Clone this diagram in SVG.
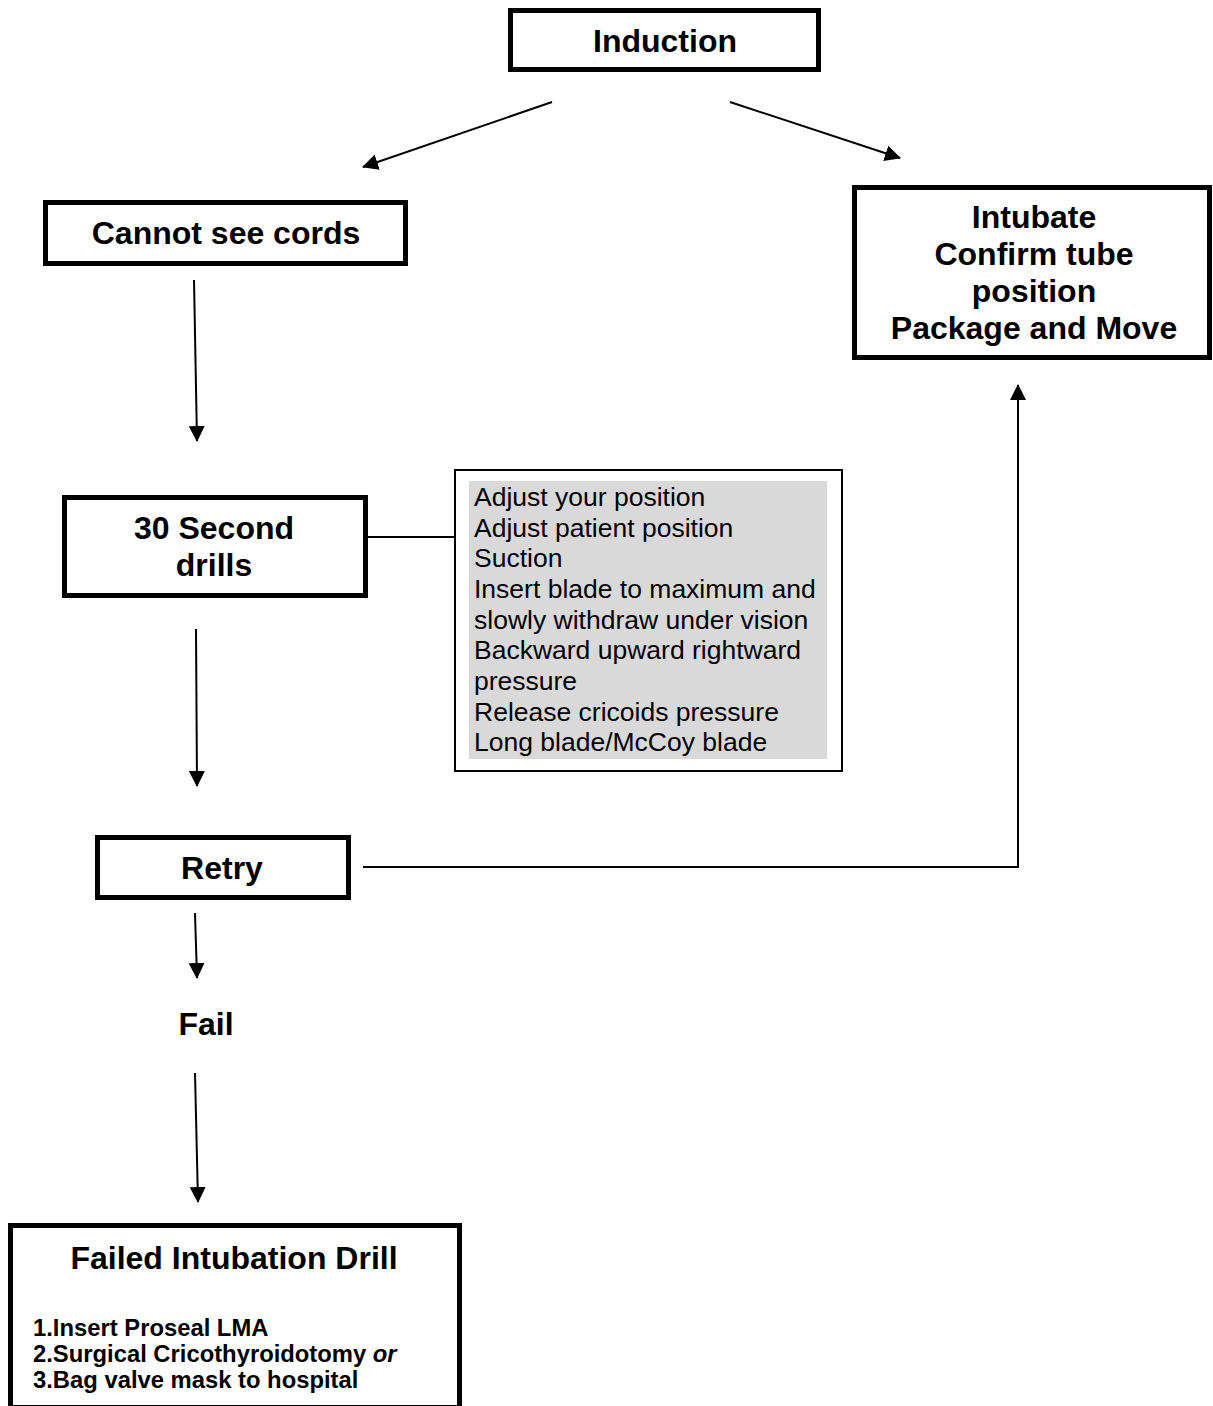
<svg xmlns="http://www.w3.org/2000/svg" width="1213" height="1406" viewBox="0 0 1213 1406">
<style>
.box{fill:#fff;stroke:#000;stroke-width:5}
.t{font-family:"Liberation Sans",Arial,sans-serif;font-weight:bold;font-size:32px;text-anchor:middle;fill:#000}
.r{font-family:"Liberation Sans",Arial,sans-serif;font-size:26.5px;fill:#000}
.i{font-family:"Liberation Sans",Arial,sans-serif;font-weight:bold;font-size:23.8px;fill:#000}
.c{fill:none;stroke:#000;stroke-width:2}
</style>
<defs>
<marker id="ah" markerUnits="userSpaceOnUse" markerWidth="16" markerHeight="16" refX="15" refY="8" orient="auto">
<path d="M0,0 L16,8 L0,16 z" fill="#000"/>
</marker>
</defs>
<rect width="1213" height="1406" fill="#fff"/>
<g id="connectors">
<line class="c" x1="552" y1="102" x2="363" y2="167" marker-end="url(#ah)"/>
<line class="c" x1="730" y1="102" x2="900" y2="158" marker-end="url(#ah)"/>
<line class="c" x1="194" y1="280" x2="197" y2="441" marker-end="url(#ah)"/>
<line class="c" x1="368" y1="537" x2="455" y2="537"/>
<line class="c" x1="196" y1="629" x2="197" y2="786" marker-end="url(#ah)"/>
<polyline class="c" points="363,867 1018,867 1018,385" marker-end="url(#ah)"/>
<line class="c" x1="195" y1="913" x2="197" y2="978" marker-end="url(#ah)"/>
<line class="c" x1="195" y1="1073" x2="198" y2="1202" marker-end="url(#ah)"/>
</g>
<g id="induction">
<rect class="box" x="510.5" y="10.5" width="308" height="59"/>
<text class="t" x="665" y="52">Induction</text>
</g>
<g id="cannot-see-cords">
<rect class="box" x="45.5" y="202.5" width="360" height="61"/>
<text class="t" x="226" y="244">Cannot see cords</text>
</g>
<g id="intubate">
<rect class="box" x="854.5" y="187.5" width="355" height="170"/>
<text class="t" x="1034" y="228">Intubate</text>
<text class="t" x="1034" y="265">Confirm tube</text>
<text class="t" x="1034" y="302">position</text>
<text class="t" x="1034" y="339">Package and Move</text>
</g>
<g id="drills">
<rect class="box" x="64.5" y="497.5" width="301" height="98"/>
<text class="t" x="214" y="539">30 Second</text>
<text class="t" x="214" y="576">drills</text>
</g>
<g id="drill-list">
<rect x="455" y="470" width="387" height="301" fill="#fff" stroke="#000" stroke-width="2"/>
<rect x="469" y="481" width="358" height="278" fill="#d9d9d9"/>
<text class="r" x="474" y="506">Adjust your position</text>
<text class="r" x="474" y="537">Adjust patient position</text>
<text class="r" x="474" y="567">Suction</text>
<text class="r" x="474" y="598">Insert blade to maximum and</text>
<text class="r" x="474" y="629">slowly withdraw under vision</text>
<text class="r" x="474" y="659">Backward upward rightward</text>
<text class="r" x="474" y="690">pressure</text>
<text class="r" x="474" y="721">Release cricoids pressure</text>
<text class="r" x="474" y="751">Long blade/McCoy blade</text>
</g>
<g id="retry">
<rect class="box" x="97.5" y="837.5" width="251" height="60"/>
<text class="t" x="222" y="879">Retry</text>
</g>
<g id="fail">
<text class="t" x="206" y="1035">Fail</text>
</g>
<g id="failed-drill">
<rect class="box" x="10.5" y="1225.5" width="449" height="182"/>
<text class="t" x="234" y="1269">Failed Intubation Drill</text>
<text class="i" x="33" y="1336">1.Insert Proseal LMA</text>
<text class="i" x="33" y="1362">2.Surgical Cricothyroidotomy <tspan font-style="italic">or</tspan></text>
<text class="i" x="33" y="1388">3.Bag valve mask to hospital</text>
</g>
</svg>
